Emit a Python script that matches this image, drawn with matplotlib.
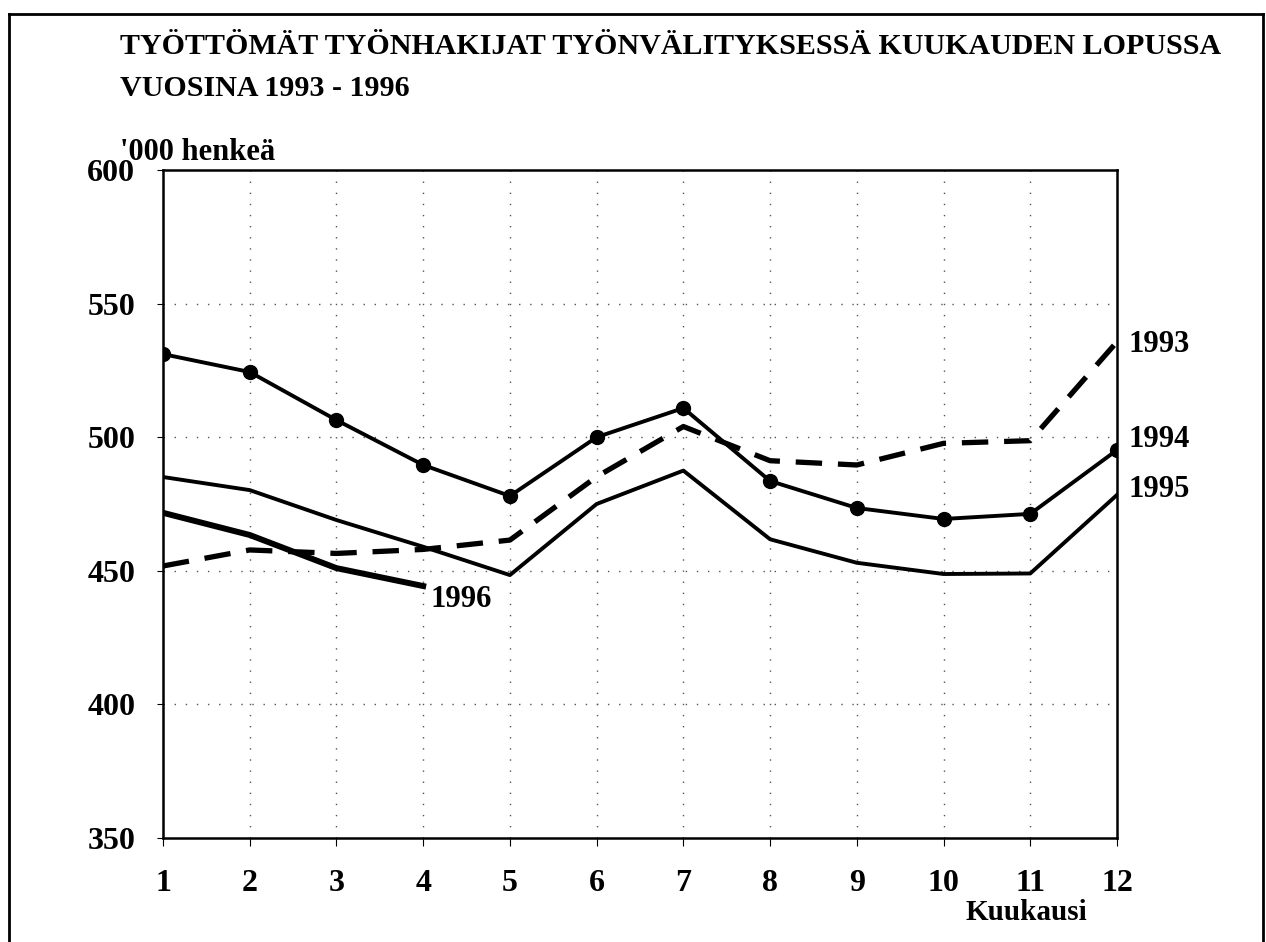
import matplotlib
matplotlib.use("Agg")
import matplotlib.pyplot as plt
from matplotlib.lines import Line2D

months = list(range(1, 13))
y1993 = [451.8, 457.8, 456.5, 458.0, 461.5, 485.2, 504.0, 491.2, 489.6, 497.7, 498.7, 535.7]
y1994 = [531.1, 524.4, 506.4, 489.6, 478.0, 500.0, 510.9, 483.6, 473.5, 469.4, 471.3, 495.2]
y1995 = [485.1, 480.2, 469.0, 459.0, 448.4, 475.0, 487.5, 461.8, 453.0, 448.8, 449.0, 478.4]
months1996 = [1, 2, 3, 4]
y1996 = [471.7, 463.4, 451.0, 444.3]
yticks = [350, 400, 450, 500, 550, 600]
title1 = "TYÖTTÖMÄT TYÖNHAKIJAT TYÖNVÄLITYKSESSÄ KUUKAUDEN LOPUSSA"
title2 = "VUOSINA 1993 - 1996"

plt.rcParams['font.family'] = ['Liberation Serif', 'DejaVu Serif']
W, H = 1266, 942
fig = plt.figure(figsize=(W / 100, H / 100), dpi=100)
ax = fig.add_axes([163 / W, 1 - 838 / H, (1117 - 163) / W, (838 - 170) / H])

grid_style = dict(color='#555555', lw=1.0, ls=(0, (1, 7)))
for m in months[1:-1]:
    ax.axvline(m, **grid_style, zorder=1)
for v in yticks[1:-1]:
    ax.axhline(v, **grid_style, zorder=1)

ax.plot(months, y1993, color='black', lw=3.8, ls=(0, (5, 3)), zorder=3)
ax.plot(months, y1994, color='black', lw=2.8, marker='o', ms=10, zorder=4)
ax.plot(months, y1995, color='black', lw=2.8, zorder=3)
ax.plot(months1996, y1996, color='black', lw=4.3, zorder=3)

ax.set_xlim(1, 12)
ax.set_ylim(350, 600)
ax.set_xticks(months)
ax.set_yticks(yticks)
ax.tick_params(axis='x', direction='out', length=6, width=0.8, pad=16, labelsize=23)
ax.tick_params(axis='y', direction='out', length=4, width=0.8, pad=16, labelsize=23)
for lab in ax.get_xticklabels() + ax.get_yticklabels():
    lab.set_fontweight('bold')
for s in ax.spines.values():
    s.set_linewidth(1.8)

lab_kw = dict(fontsize=22, fontweight='bold', va='center', ha='left')
ax.text(12.13, y1993[-1] - 1, "1993", **lab_kw)
ax.text(12.13, y1994[-1] + 4, "1994", **lab_kw)
ax.text(12.13, y1995[-1] + 2, "1995", **lab_kw)
ax.text(4.08, y1996[-1] - 5.2, "1996", **lab_kw)

fig.text(120 / W, 1 - 54 / H, title1, fontsize=21.6, fontweight='bold', va='baseline', ha='left')
fig.text(120 / W, 1 - 96 / H, title2, fontsize=21.6, fontweight='bold', va='baseline', ha='left')
fig.text(120 / W, 1 - 153 / H, "'000 henkeä", fontsize=22, fontweight='bold', va='center', ha='left')
fig.text(1087 / W, 1 - 912 / H, "Kuukausi", fontsize=21, fontweight='bold', va='center', ha='right')

# outer frame
fig.add_artist(Line2D([9 / W, 9 / W], [0, 1 - 14 / H], color='black', lw=2, transform=fig.transFigure))
fig.add_artist(Line2D([9 / W, 1263 / W], [1 - 14 / H, 1 - 14 / H], color='black', lw=2, transform=fig.transFigure))
fig.add_artist(Line2D([1263 / W, 1263 / W], [0, 1 - 14 / H], color='black', lw=2, transform=fig.transFigure))

fig.savefig("out.png", dpi=100)
